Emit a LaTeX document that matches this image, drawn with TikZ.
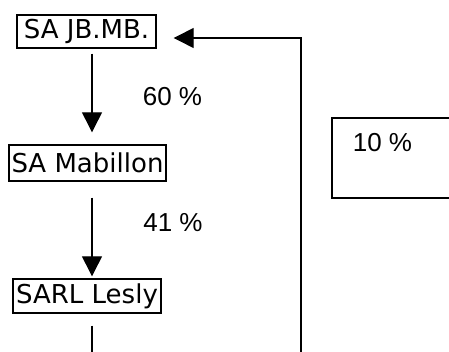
\documentclass[tikz,border=0pt]{standalone}
\usepackage{fontspec}
\setmainfont{DejaVu Sans}
\newfontfamily\pctfont{Liberation Sans}
\usetikzlibrary{arrows.meta}

\begin{document}
\begin{tikzpicture}[x=1pt, y=-1pt,
    company/.style ={draw, line width=1.4pt, inner sep=0pt, font=\fontsize{26}{30}\selectfont},
    share/.style ={font=\pctfont\fontsize{26}{30}\selectfont},
    link/.style ={line width=1.3pt, -{Triangle[width=20pt,length=20pt]}}]
   \useasboundingbox (0,0) rectangle (449,352);

   \node[company, minimum width=139pt, minimum height=33pt] (JB)  at (86.5,31.5) {SA JB.MB.};
   \node[company, minimum width=157pt, minimum height=36pt] (Mab) at (87.5,163)  {SA Mabillon};
   \node[company, minimum width=148pt, minimum height=34pt] (Lesly) at (87,296) {SARL Lesly};

   \node[share] (p60) at (172.5,97)  {60 \%};
   \node[share] (p41) at (173,223)   {41 \%};
   \node[share] (p10) at (382.5,143) {10 \%};

   \coordinate (col)  at (92,0);
   \coordinate (exit) at (92,352);
   \coordinate (back) at (301,352);

   \draw[link, shorten <=5pt, shorten >=12pt] (JB.south -| col) to (Mab.north -| col);
   \draw[link, shorten <=16pt, shorten >=2pt] (Mab.south -| col) to (Lesly.north -| col);
   \draw[line width=1.3pt, shorten <=12pt] (Lesly.south -| col) to (exit);
   \draw[link, shorten >=17pt] (back) |- ([yshift=-6.5pt]JB.east);
   \draw[line width=1.4pt] (449,118) -- (332,118) -- (332,198) -- (449,198);
 \end{tikzpicture}
\end{document}
